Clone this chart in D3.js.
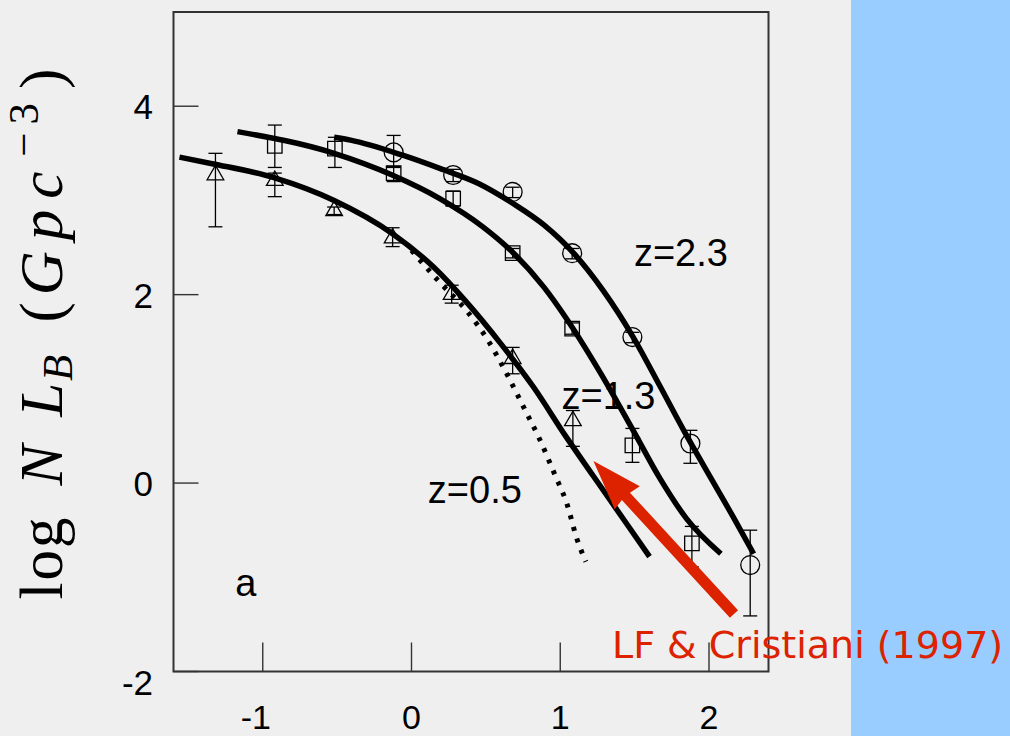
<!DOCTYPE html>
<html><head><meta charset="utf-8">
<script src="https://cdn.jsdelivr.net/npm/d3@7"></script>
<style>
html,body{margin:0;padding:0;background:#efefef;}
svg{display:block;}
</style></head>
<body>
<svg id="chart" width="1010" height="736"></svg>
<script>
// ---- data ----
const xTickValues = [-1, 0, 1, 2];
const xTickLabels = ["-1", "0", "1", "2"];
const yTickValues = [-2, 0, 2, 4];
const yTickLabels = ["-2", "0", "2", "4"];

// z=0.5 data (triangles)
const triX  = [-1.318, -0.919, -0.52, -0.127, 0.27, 0.68, 1.085];
const triY  = [3.27, 3.21, 2.89, 2.60, 2.00, 1.32, 0.66];
const triHi = [3.50, 3.29, 2.93, 2.71, 2.10, 1.44, 0.77];
const triLo = [2.72, 3.04, 2.85, 2.51, 1.91, 1.16, 0.39];

// z=1.3 data (squares)
const sqX  = [-0.919, -0.515, -0.12, 0.28, 0.68, 1.08, 1.485, 1.885];
const sqY  = [3.58, 3.55, 3.29, 3.02, 2.44, 1.64, 0.40, -0.64];
const sqHi = [3.80, 3.67, 3.36, 3.10, 2.49, 1.70, 0.58, -0.46];
const sqLo = [3.35, 3.35, 3.20, 2.94, 2.39, 1.58, 0.22, -0.89];

// z=2.3 data (circles)
const circX  = [-0.12, 0.28, 0.68, 1.08, 1.485, 1.875, 2.277];
const circY  = [3.51, 3.27, 3.09, 2.44, 1.55, 0.42, -0.87];
const circHi = [3.69, 3.33, 3.14, 2.49, 1.60, 0.56, -0.50];
const circLo = [3.35, 3.20, 3.03, 2.38, 1.49, 0.21, -1.41];

// model curves
const fit05X = [-1.56, -1.34, -0.92, -0.52, -0.13, 0.15, 0.37, 0.60, 0.82, 1.04, 1.22, 1.45, 1.60];
const fit05Y = [3.46, 3.39, 3.24, 3.00, 2.65, 2.29, 1.92, 1.48, 1.02, 0.49, 0.08, -0.44, -0.78];
const fit13X = [-1.17, -0.52, -0.13, 0.19, 0.48, 0.68, 0.89, 1.04, 1.27, 1.49, 1.67, 1.85, 2.08];
const fit13Y = [3.73, 3.50, 3.27, 3.02, 2.72, 2.45, 2.08, 1.75, 1.17, 0.56, 0.05, -0.38, -0.75];
const fit23X = [-0.52, -0.41, -0.06, 0.19, 0.45, 0.68, 0.89, 1.09, 1.29, 1.49, 1.67, 1.83, 2.01, 2.17, 2.30];
const fit23Y = [3.67, 3.64, 3.48, 3.34, 3.18, 2.97, 2.74, 2.44, 2.04, 1.55, 1.03, 0.56, 0.06, -0.38, -0.75];
// LF & Cristiani (1997), z=0.5 (dotted)
const lfcX = [0.00, 0.19, 0.37, 0.52, 0.64, 0.77, 0.86, 0.965, 1.044, 1.111, 1.172];
const lfcY = [2.47, 2.13, 1.83, 1.50, 1.16, 0.755, 0.47, 0.084, -0.216, -0.587, -0.836];

// text labels
const curveLabels = ["z=2.3", "z=1.3", "z=0.5"];
const curveLabelX = [1.495, 1.008, 0.11];
const curveLabelY = [2.30, 0.79, -0.21];
const panelLabel = "a";
const annotText = "LF & Cristiani (1997)";
const arrowTail = [2.168, -1.389];
const arrowTip = [1.223, 0.234];

// ---- layout ----
const svg = d3.select("#chart");
const W = 1010, H = 736;
const x = d3.scaleLinear().domain([-1.6, 2.4]).range([173.5, 768.5]);
const y = d3.scaleLinear().domain([-2, 5]).range([671.5, 12]);

svg.append("rect").attr("width", W).attr("height", H).attr("fill", "#efefef");
svg.append("rect").attr("x", 851).attr("y", 0).attr("width", W - 851).attr("height", H).attr("fill", "#99ccff");

const sans = "'Liberation Sans', Arial, Helvetica, sans-serif";

// ticks
const g = svg.append("g");
g.selectAll(".xt").data(xTickValues).join("line")
  .attr("x1", d => x(d)).attr("x2", d => x(d))
  .attr("y1", y(-2)).attr("y2", y(-2) - 29)
  .attr("stroke", "#333").attr("stroke-width", 1.4);
g.selectAll(".yt").data(yTickValues).join("line")
  .attr("x1", x(-1.6)).attr("x2", x(-1.6) + 25)
  .attr("y1", d => y(d)).attr("y2", d => y(d))
  .attr("stroke", "#333").attr("stroke-width", 1.4);

// frame
svg.append("rect")
  .attr("x", x(-1.6)).attr("y", y(5))
  .attr("width", x(2.4) - x(-1.6)).attr("height", y(-2) - y(5))
  .attr("fill", "none").attr("stroke", "#333").attr("stroke-width", 2);

// tick labels
svg.selectAll(".xl").data(xTickValues).join("text")
  .attr("x", (d, i) => x(d) + (xTickLabels[i].startsWith("-") ? -7 : 0))
  .attr("y", y(-2) + 57)
  .attr("text-anchor", "middle")
  .attr("font-family", sans).attr("font-size", 34).attr("fill", "#000")
  .text((d, i) => xTickLabels[i]);
svg.selectAll(".yl").data(yTickValues).join("text")
  .attr("x", 153)
  .attr("y", (d, i) => y(d) + 13 + (i === 0 ? 10 : 0))
  .attr("text-anchor", "end")
  .attr("font-family", sans).attr("font-size", 35).attr("fill", "#000")
  .text((d, i) => yTickLabels[i]);

// y axis title
const serif = "'Liberation Serif', 'DejaVu Serif', serif";
const yt = svg.append("text")
  .attr("transform", "translate(62,334) rotate(-90)")
  .attr("text-anchor", "middle")
  .attr("font-family", serif).attr("font-size", 61).attr("fill", "#000");
yt.append("tspan").attr("letter-spacing", 2).text("log");
yt.append("tspan").attr("dx", 30).attr("font-style", "italic").text("N");
yt.append("tspan").attr("dx", 28).attr("font-style", "italic").text("L");
yt.append("tspan").attr("dx", 2).attr("font-style", "italic").attr("font-size", 43).attr("dy", 10).text("B");
yt.append("tspan").attr("dx", 32).attr("dy", -10).text("(");
yt.append("tspan").attr("dx", 7).attr("font-style", "italic").attr("letter-spacing", 11).text("Gpc");
yt.append("tspan").attr("dx", 4).attr("font-size", 43).attr("dy", -24).attr("letter-spacing", 8).text("−3");
yt.append("tspan").attr("dx", 6).attr("dy", 24).text(")");

// error bars + markers
function drawSeries(xs, ys, hi, lo, shape) {
  const data = xs.map((v, i) => ({x: v, y: ys[i], hi: hi[i], lo: lo[i]}));
  const gs = svg.append("g").attr("stroke", "#000").attr("stroke-width", 1.3).attr("fill", "none");
  gs.selectAll(".eb").data(data).join("line")
    .attr("x1", d => x(d.x)).attr("x2", d => x(d.x))
    .attr("y1", d => y(d.hi)).attr("y2", d => y(d.lo));
  gs.selectAll(".cap1").data(data).join("line")
    .attr("x1", d => x(d.x) - 7).attr("x2", d => x(d.x) + 7)
    .attr("y1", d => y(d.hi)).attr("y2", d => y(d.hi));
  gs.selectAll(".cap2").data(data).join("line")
    .attr("x1", d => x(d.x) - 7).attr("x2", d => x(d.x) + 7)
    .attr("y1", d => y(d.lo)).attr("y2", d => y(d.lo));
  const sym = d3.symbol().type(shape === "tri" ? d3.symbolTriangle : shape === "sq" ? d3.symbolSquare : d3.symbolCircle)
    .size(shape === "tri" ? 120 : shape === "sq" ? 210 : 280);
  gs.selectAll(".mk").data(data).join("path")
    .attr("transform", d => `translate(${x(d.x)},${y(d.y)})`)
    .attr("d", sym);
}
drawSeries(triX, triY, triHi, triLo, "tri");
drawSeries(sqX, sqY, sqHi, sqLo, "sq");
drawSeries(circX, circY, circHi, circLo, "circ");

// curves
const line = d3.line().x(d => x(d[0])).y(d => y(d[1])).curve(d3.curveMonotoneX);
function pts(xs, ys) { return xs.map((v, i) => [v, ys[i]]); }
[[fit05X, fit05Y], [fit13X, fit13Y], [fit23X, fit23Y]].forEach(([xs, ys]) => {
  svg.append("path").attr("d", line(pts(xs, ys)))
    .attr("fill", "none").attr("stroke", "#000").attr("stroke-width", 5.5)
    .attr("stroke-linecap", "butt").attr("stroke-linejoin", "round");
});
svg.append("path").attr("d", line(pts(lfcX, lfcY)))
  .attr("fill", "none").attr("stroke", "#000").attr("stroke-width", 5)
  .attr("stroke-dasharray", "4 8");

// curve labels
svg.selectAll(".cl").data(curveLabels).join("text")
  .attr("x", (d, i) => x(curveLabelX[i])).attr("y", (d, i) => y(curveLabelY[i]))
  .attr("font-family", sans).attr("font-size", 38).attr("fill", "#000")
  .text(d => d);
svg.append("text").attr("x", x(-1.185)).attr("y", y(-1.2))
  .attr("font-family", sans).attr("font-size", 38).attr("fill", "#000").text(panelLabel);

// arrow
(function () {
  const tx = x(arrowTail[0]), ty = y(arrowTail[1]);
  const hx = x(arrowTip[0]), hy = y(arrowTip[1]);
  const dx = hx - tx, dy = hy - ty, L = Math.hypot(dx, dy);
  const ux = dx / L, uy = dy / L, nx = -uy, ny = ux;
  const headLen = 50, headHalf = 17, shaftHalf = 5.5;
  const bx = hx - ux * headLen, by = hy - uy * headLen;
  const p = [
    [tx + nx * shaftHalf, ty + ny * shaftHalf],
    [bx + ux * 2 + nx * shaftHalf, by + uy * 2 + ny * shaftHalf],
    [bx + nx * headHalf, by + ny * headHalf],
    [hx, hy],
    [bx - nx * headHalf, by - ny * headHalf],
    [bx + ux * 2 - nx * shaftHalf, by + uy * 2 - ny * shaftHalf],
    [tx - nx * shaftHalf, ty - ny * shaftHalf]
  ];
  svg.append("path").attr("d", "M" + p.map(q => q.join(",")).join("L") + "Z").attr("fill", "#dd2200");
})();

svg.append("text").attr("x", x(1.348)).attr("y", y(-1.862))
  .attr("font-family", "'DejaVu Sans', Verdana, sans-serif").attr("font-size", 38)
  .attr("fill", "#dd2200").text(annotText);
</script>
</body></html>
